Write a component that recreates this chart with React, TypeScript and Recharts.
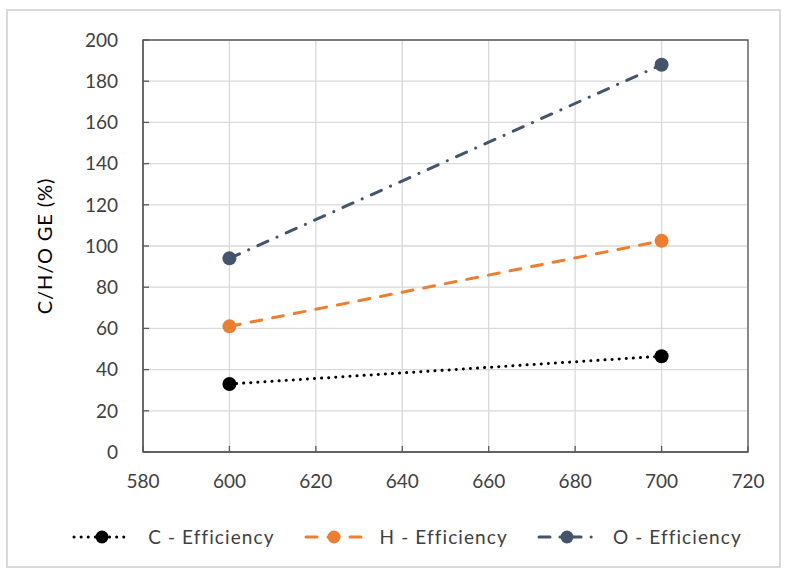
import { LineChart, Line, XAxis, YAxis, CartesianGrid, Legend, ReferenceArea } from 'recharts';

const temperatures = [600, 700];
const cEfficiency = [33, 46.5];
const hEfficiency = [61, 102.5];
const oEfficiency = [94, 188];
const xTicks = [580, 600, 620, 640, 660, 680, 700, 720];
const yTicks = [0, 20, 40, 60, 80, 100, 120, 140, 160, 180, 200];

const data = temperatures.map((t, i) => ({
  t,
  c: cEfficiency[i],
  h: hEfficiency[i],
  o: oEfficiency[i],
}));

const series = [
  { key: 'c', name: 'C - Efficiency', color: '#000000', dash: '0.1 7' },
  { key: 'h', name: 'H - Efficiency', color: '#ED7D31', dash: '11 11' },
  { key: 'o', name: 'O - Efficiency', color: '#44546A', dash: '11 10 0.1 10' },
];

const font = 'Lato, "Noto Sans", sans-serif';
const textColor = '#404040';

function LegendRow() {
  return (
    <div style={{ display: 'flex', justifyContent: 'center', gap: 28, fontFamily: font, fontSize: 19, letterSpacing: 1.1, color: textColor }}>
      {series.map((s) => (
        <div key={s.key} style={{ display: 'flex', alignItems: 'center' }}>
          <svg width={62} height={16}>
            <line x1={3} y1={8} x2={59} y2={8} stroke={s.color} strokeWidth={3} strokeDasharray={s.dash} strokeLinecap="round" />
            <circle cx={31} cy={8} r={6.5} fill={s.color} />
          </svg>
          <span style={{ marginLeft: 15 }}>{s.name}</span>
        </div>
      ))}
    </div>
  );
}

export default function App() {
  return (
    <div style={{ position: 'absolute', left: 0, top: 0, width: 785, height: 572, background: '#fff' }}>
      <div style={{ position: 'absolute', left: 6, top: 9, width: 771, height: 555, border: '2px solid #d9d9d9' }} />
      <LineChart width={785} height={572} data={data} margin={{ top: 40, right: 37, left: 0, bottom: 0 }}>
        <CartesianGrid stroke="#d9d9d9" strokeWidth={1.3} />
        <XAxis
          dataKey="t"
          type="number"
          domain={[580, 720]}
          ticks={xTicks}
          height={120}
          stroke="#595959"
          strokeWidth={1.3}
          tickSize={-6}
          tickMargin={29}
          tick={{ fontFamily: font, fontSize: 19, fill: textColor }}
        />
        <YAxis
          type="number"
          domain={[0, 200]}
          ticks={yTicks}
          width={143}
          stroke="#595959"
          strokeWidth={1.3}
          tickSize={-6}
          tickMargin={31}
          tick={{ fontFamily: font, fontSize: 19, fill: textColor }}
          label={{
            value: 'C/H/O GE (%)',
            angle: -90,
            position: 'insideLeft',
            offset: 45,
            style: { textAnchor: 'middle', fontFamily: font, fontSize: 20, letterSpacing: 0.9, fill: '#000' },
          }}
        />
        <ReferenceArea x1={580} x2={720} y1={0} y2={200} fill="none" stroke="#595959" strokeWidth={1.3} ifOverflow="visible" />
        {series.map((s) => (
          <Line
            key={s.key}
            type="linear"
            dataKey={s.key}
            name={s.name}
            stroke={s.color}
            strokeWidth={3}
            strokeDasharray={s.dash}
            strokeLinecap="round"
            dot={{ r: 7, fill: s.color, stroke: s.color, strokeWidth: 0 }}
            isAnimationActive={false}
          />
        ))}
        <Legend
          layout="horizontal"
          verticalAlign="middle"
          align="center"
          content={() => <LegendRow />}
          wrapperStyle={{ top: 525, left: 14, width: 785 }}
        />
      </LineChart>
    </div>
  );
}
